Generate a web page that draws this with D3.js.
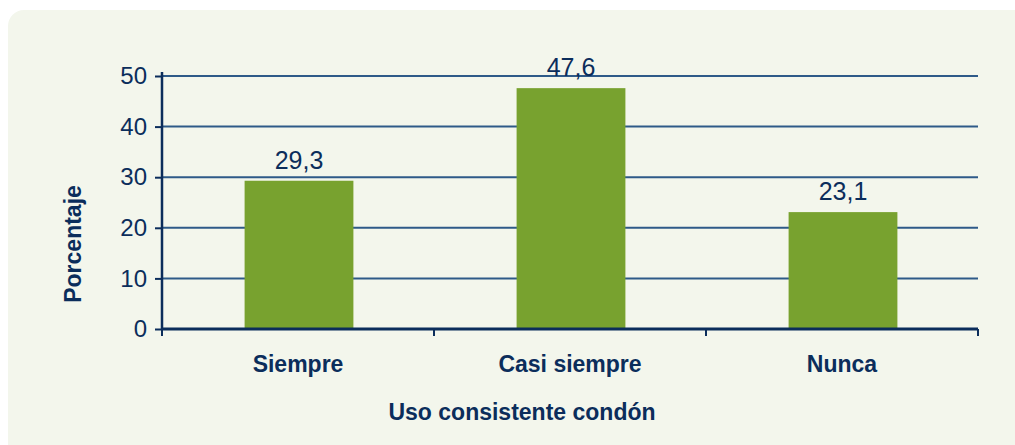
<!DOCTYPE html>
<html><head><meta charset="utf-8">
<script src="https://cdn.jsdelivr.net/npm/d3@7"></script>
<style>body{margin:0;background:#fff;}svg{display:block;font-family:"Liberation Sans",Arial,sans-serif;}</style>
</head><body>
<svg id="c" width="1015" height="445"></svg>
<script>
const categories = ["Siempre", "Casi siempre", "Nunca"];
const values = [29.3, 47.6, 23.1];
const valueLabels = ["29,3", "47,6", "23,1"];
const yTicks = [0, 10, 20, 30, 40, 50];

const svg = d3.select("#c");
const navy = "#0b2d5b";
const FF = "Liberation Sans, Arial, sans-serif";
svg.append("rect").attr("x", 8).attr("y", 10).attr("width", 1030).attr("height", 460)
  .attr("rx", 16).attr("fill", "#f3f6ec");

const L = 162, R = 978, T = 76, B = 329;
const x = d3.scaleBand().domain(categories).range([L, R]).paddingInner(0.6).paddingOuter(0.3);
const xb = d3.scaleBand().domain(categories).range([L, R]);
const y = d3.scaleLinear().domain([0, 50]).range([B, T]);

// gridlines
svg.append("g").selectAll("line").data(yTicks.filter(d => d > 0)).join("line")
  .attr("x1", L).attr("x2", R).attr("y1", d => y(d)).attr("y2", d => y(d))
  .attr("stroke", "#2e5a88").attr("stroke-width", 2);

// bars
svg.append("g").selectAll("rect").data(values).join("rect")
  .attr("x", (d, i) => x(categories[i]) + 1).attr("width", x.bandwidth())
  .attr("y", d => y(d)).attr("height", d => B - y(d)).attr("fill", "#78a22f");

// value labels
svg.append("g").selectAll("text").data(values).join("text")
  .attr("x", (d, i) => x(categories[i]) + 1 + x.bandwidth() / 2).attr("y", d => y(d) - 12)
  .attr("text-anchor", "middle").attr("font-size", 25).attr("fill", navy)
  .text((d, i) => valueLabels[i]);

// y axis
const ya = svg.append("g").attr("transform", `translate(${L},0)`)
  .call(d3.axisLeft(y).tickValues(yTicks).tickSize(7).tickPadding(8).tickFormat(d3.format("d")));
ya.select(".domain").attr("stroke", navy).attr("stroke-width", 2.5).attr("d", `M0,${T - 4}V${B}`);
ya.selectAll(".tick line").attr("stroke", navy).attr("stroke-width", 2);
ya.selectAll(".tick text").attr("font-size", 24).attr("fill", navy).attr("font-family", FF);

// x axis
const xa = svg.append("g").attr("transform", `translate(0,${B})`)
  .call(d3.axisBottom(xb).tickSize(0).tickPadding(26));
xa.select(".domain").attr("stroke", navy).attr("stroke-width", 3).attr("d", `M${L},0H${R}`);
xa.selectAll(".tick text").attr("font-size", 23).attr("font-weight", "bold").attr("fill", navy)
  .attr("font-family", FF).attr("dy", null).attr("y", 43);
const bounds = [L, ...categories.map(c => xb(c) + xb.bandwidth())];
svg.append("g").selectAll("line").data(bounds).join("line")
  .attr("x1", d => d).attr("x2", d => d).attr("y1", B).attr("y2", B + 7)
  .attr("stroke", navy).attr("stroke-width", 2);

// titles
svg.append("text").attr("x", 522).attr("y", 420).attr("text-anchor", "middle")
  .attr("font-size", 23).attr("font-weight", "bold").attr("fill", navy).text("Uso consistente condón");
svg.append("text").attr("transform", "translate(81,244) rotate(-90)").attr("text-anchor", "middle")
  .attr("font-size", 23).attr("font-weight", "bold").attr("fill", navy).text("Porcentaje");
</script>
</body></html>
